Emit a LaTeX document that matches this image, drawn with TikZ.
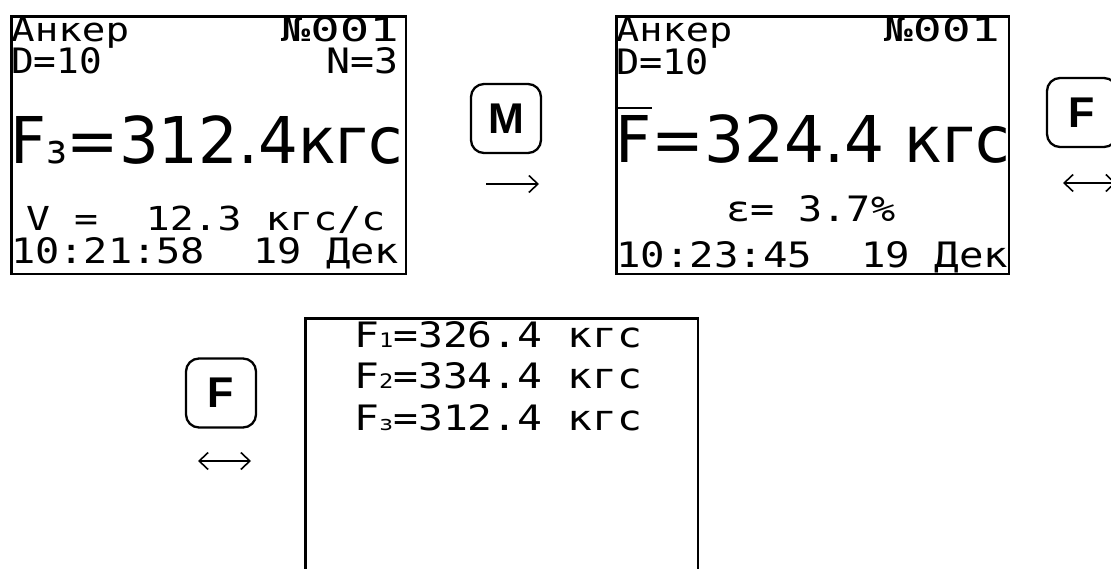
\documentclass[tikz,border=0pt]{standalone}
\usepackage{fontspec}
\usepackage{graphicx}
\usetikzlibrary{arrows.meta}
\newfontfamily\lcdm{DejaVu Sans Mono}
\newfontfamily\lcdp{DejaVu Sans}
\newfontfamily\btnf{Liberation Sans}
\newcommand\fitw[2]{\resizebox{#1}{\height}{#2}}
\newcommand\lsub[1]{{\fontsize{20}{20}\selectfont #1}}
\newcommand\bsub[1]{{\fontsize{40}{40}\selectfont #1}}
\tikzset{
  screen/.style={draw, line width=2.7pt, inner sep=0pt, anchor=north west},
  sm/.style={inner sep=0pt, font=\lcdm\fontsize{35}{35}\selectfont},
  smtop/.style={inner sep=0pt, font=\lcdm\fontsize{33}{33}\selectfont},
  big/.style={inner sep=0pt, font=\lcdp\fontsize{64.5}{64.5}\selectfont},
  key/.style={draw, line width=2.3pt, rounded corners=13pt, minimum width=70pt,
    minimum height=69pt, inner sep=0pt, font=\btnf\bfseries\fontsize{43}{43}\selectfont},
  tip/.tip={Straight Barb[length=9pt,width=17pt,line width=1.6pt]},
  onearrow/.style={line width=1.6pt, -tip},
  twoarrow/.style={line width=1.6pt, tip-tip},
}
\begin{document}
\begin{tikzpicture}[x=1pt,y=-1pt]
\useasboundingbox (0,0) rectangle (1111,569);
\clip (0,0) rectangle (1111,569);
% screens
\node[screen, minimum width=394.3pt, minimum height=257.3pt] (scrA) at (10.35,15.35) {};
\node[screen, minimum width=392.3pt, minimum height=257.3pt] (scrB) at (615.35,15.35) {};
\node[screen, minimum width=392.3pt, minimum height=300pt] (scrC) at (304.35,317.35) {};
% left screen
\node[smtop, anchor=base west] (a1) at (11,42) {\fitw{118pt}{Анкер}};
\node[smtop, anchor=base east] (a2) at (399,42) {\fitw{118pt}{№001}};
\node[sm, anchor=base west] (a3) at (11,74) {\fitw{91pt}{D=10}};
\node[sm, anchor=base east] (a4) at (399,74) {\fitw{72pt}{N=3}};
\node[big, anchor=base west] (a5) at (10,164) {\fitw{393pt}{F\bsub{з}=312.4кгс}};
\node[smtop, anchor=base west] (a6) at (26,231) {\fitw{359pt}{V =\ \ 12.3 кгс/с}};
\node[sm, anchor=base west] (a7) at (11,264) {\fitw{388pt}{10:21:58\ \ 19 Дек}};
% middle screen
\node[smtop, anchor=base west] (b1) at (616,42) {\fitw{116pt}{Анкер}};
\node[smtop, anchor=base east] (b2) at (1000,42) {\fitw{116pt}{№001}};
\node[sm, anchor=base west] (b3) at (616,75) {\fitw{93pt}{D=10}};
\node[big, anchor=base west] (b5) at (615,163) {\fitw{395pt}{F=324.4 кгс}};
\draw[line width=2.5pt] (617,108) -- (652,108);
\node[sm, anchor=base west] (b6) at (726,222) {\fitw{169pt}{ε= 3.7\%}};
\node[sm, anchor=base west] (b7) at (616,268) {\fitw{392pt}{10:23:45\ \ 19 Дек}};
% bottom screen
\node[sm, anchor=base west] (c1) at (354,347) {\fitw{288pt}{F\lsub{1}=326.4 кгс}};
\node[sm, anchor=base west] (c2) at (354,388) {\fitw{288pt}{F\lsub{2}=334.4 кгс}};
\node[sm, anchor=base west] (c3) at (354,430) {\fitw{288pt}{F\lsub{з}=312.4 кгс}};
% keys
\node[key] (kM) at (506,118.5) {M};
\node[key] (kF1) at (1082,112.5) {F};
\node[key] (kF2) at (221,393) {F};
% arrows
\coordinate (mL) at (486,184);
\coordinate (mR) at (539,184);
\coordinate (f1L) at (1063,183);
\coordinate (f1R) at (1116,183);
\coordinate (f2L) at (198,461);
\coordinate (f2R) at (251,461);
\draw[onearrow] (mL) -- (mR);
\draw[twoarrow] (f1L) -- (f1R);
\draw[twoarrow] (f2L) -- (f2R);
\end{tikzpicture}
\end{document}
